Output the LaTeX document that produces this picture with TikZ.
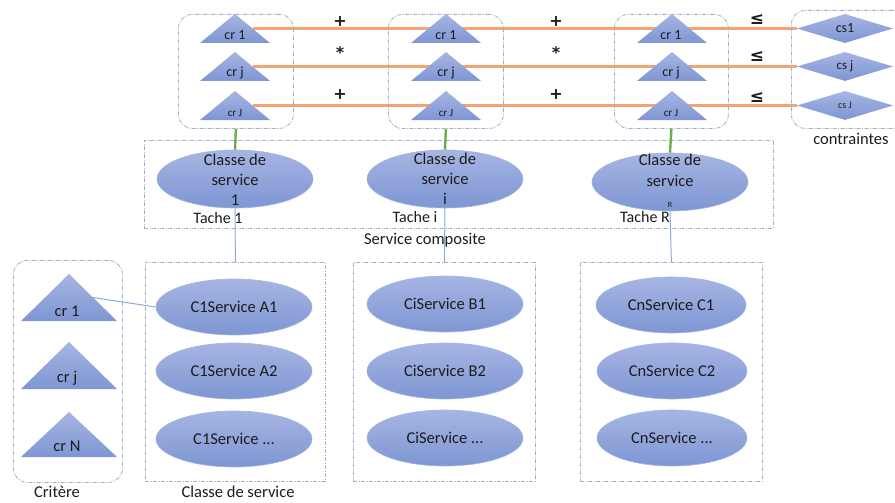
\documentclass[tikz,border=0pt]{standalone}
\usepackage{fontspec}
\setmainfont{Carlito}
\newfontfamily\dejavu{DejaVu Sans}
\usetikzlibrary{shapes.geometric,calc,backgrounds}
\definecolor{triTop}{HTML}{A6B5E3}
\definecolor{triBot}{HTML}{7E96D3}
\definecolor{elBorder}{HTML}{A3B5E2}
\definecolor{boxc}{HTML}{9BB1CC}
\definecolor{orangel}{HTML}{F5A46F}
\definecolor{greenl}{HTML}{70AD47}
\definecolor{bluel}{HTML}{8FAADC}
\definecolor{txt}{HTML}{1C1C1C}
\newcommand\fsz[1]{\fontsize{#1}{#1}\selectfont}
% triangle: name, x, apex y, width, height
\newcommand\mytri[5]{%
  \node[inner sep=0, outer sep=0, minimum width=#4pt, minimum height=#5pt, anchor=north] (#1) at (#2,#3) {};
  \shade[top color=triTop, bottom color=triBot] (#1.south west) -- (#1.north) -- (#1.south east) -- cycle;
}
\begin{document}
\begin{tikzpicture}[x=1pt,y=-1pt,
  every node/.style={text=txt},
  dbox/.style={draw=boxc, line width=0.8pt, dash pattern=on 4pt off 1.5pt on 1pt off 1.5pt, rectangle, inner sep=0, anchor=north west},
  rbox/.style={dbox, rounded corners=14pt},
  ell/.style={ellipse, draw=elBorder, line width=0.6pt, top color=triTop, bottom color=triBot, inner sep=0, minimum width=156pt, minimum height=56pt, font=\fsz{16.5}},
  dia/.style={diamond, top color=triTop, bottom color=triBot, inner sep=0, minimum width=96pt, minimum height=29pt},
  oline/.style={draw=orangel, line width=2.2pt},
  gline/.style={draw=greenl, line width=2.4pt},
  bline/.style={draw=bluel, line width=1pt},
  lab/.style={font=\fsz{16.5}},
  toplab/.style={font=\fsz{14}},
  op/.style={font=\dejavu\fsz{16}\bfseries},
  le/.style={font=\dejavu\fsz{17}\bfseries}
]
\begin{pgfonlayer}{background}
\fill[white] (0,0) rectangle (895,503);
\end{pgfonlayer}
\useasboundingbox (0,0) rectangle (895,503);

% ---------- top criteria groups ----------
\node[rbox, minimum width=115pt, minimum height=114pt] (g1) at (178,14) {};
\node[rbox, minimum width=115pt, minimum height=114pt] (g2) at (388,14) {};
\node[rbox, minimum width=114pt, minimum height=114pt] (g3) at (614,14) {};
\node[rbox, minimum width=115pt, minimum height=118pt] (gc) at (791,10) {};

\mytri{t11}{235}{14}{70}{29}
\mytri{t12}{235}{52}{70}{29}
\mytri{t13}{235}{91}{70}{29}
\mytri{t21}{446}{14}{70}{29}
\mytri{t22}{446}{52}{70}{29}
\mytri{t23}{446}{91}{70}{29}
\mytri{t31}{672}{14}{70}{29}
\mytri{t32}{672}{52}{70}{29}
\mytri{t33}{672}{91}{70}{29}

\node[toplab] (t11l) at (235,35) {cr 1};
\node[toplab] (t12l) at (235,73) {cr j};
\node[font=\fsz{11}] (t13l) at (235,113) {cr J};
\node[toplab] (t21l) at (446,35) {cr 1};
\node[toplab] (t22l) at (446,73) {cr j};
\node[font=\fsz{11}] (t23l) at (446,113) {cr J};
\node[toplab] (t31l) at (671,35) {cr 1};
\node[toplab] (t32l) at (671,73) {cr j};
\node[font=\fsz{11}] (t33l) at (671,113) {cr J};

\node[dia] (d1) at (845,28.5) {\fsz{14}cs1};
\node[dia] (d2) at (845,66.5) {\fsz{13}cs j};
\node[dia] (d3) at (845,105.5) {\fsz{10}cs J};

\begin{pgfonlayer}{background}
\draw[oline] ($(t11.north)!0.5!(t11.south east)$) -- (d1.west);
\draw[oline] ($(t12.north)!0.5!(t12.south east)$) -- (d2.west);
\draw[oline] ($(t13.north)!0.5!(t13.south east)$) -- (d3.west);
\end{pgfonlayer}

\node[op] (p11) at (340,21) {+};
\node[op] (p12) at (340,53) {*};
\node[op] (p13) at (340,94) {+};
\node[op] (p21) at (556,21) {+};
\node[op] (p22) at (556,53) {*};
\node[op] (p23) at (556,94) {+};
\node[le] (l1) at (757,20) {≤};
\node[le] (l2) at (757,57) {≤};
\node[le] (l3) at (757,98) {≤};

\node[lab] (contr) at (851,139) {contraintes};

% ---------- composite service ----------
\node[dbox, minimum width=629pt, minimum height=88pt] (sc) at (144,140) {};
\node[ell, minimum height=58pt] (c1) at (235,179) {};
\node[ell, minimum height=58pt] (c2) at (445,179) {};
\node[ell, minimum height=58pt] (c3) at (670,182) {};
\node[font=\fontsize{16.5}{20}\selectfont, align=center] (c1t) at (235,180) {Classe de\\service\\1};
\node[font=\fontsize{16.5}{20}\selectfont, align=center] (c2t) at (445,179) {Classe de\\service\\i};
\node[font=\fontsize{16.5}{21}\selectfont, align=center] (c3t) at (670,181) {Classe de\\service\\{\fsz{8}R}};
\node[font=\fsz{16}] (tk1) at (218,218) {Tache 1};
\node[font=\fsz{16}] (tk2) at (415,217) {Tache i};
\node[font=\fsz{16}] (tk3) at (645,217) {Tache R};
\node[lab] (sct) at (425,240) {Service composite};

\draw[gline] (g1.south) -- (c1.north);
\draw[gline] (g2.south) -- (c2.north);
\draw[gline] (g3.south) -- (c3.north);

% ---------- service classes ----------
\node[dbox, minimum width=180pt, minimum height=219pt] (bA) at (145,262) {};
\node[dbox, minimum width=182pt, minimum height=219pt] (bB) at (353,262) {};
\node[dbox, minimum width=182pt, minimum height=219pt] (bC) at (580,262) {};

\node[ell] (a1) at (234,307) {C1Service A1};
\node[ell] (a2) at (234,371) {C1Service A2};
\node[ell] (a3) at (234,439) {C1Service ...};
\node[ell] (b1) at (445,304) {CiService B1};
\node[ell] (b2) at (445,371) {CiService B2};
\node[ell] (b3) at (445,438) {CiService ...};
\node[ell, minimum width=150pt] (cc1) at (671,305) {CnService C1};
\node[ell, minimum width=150pt] (cc2) at (672,371) {CnService C2};
\node[ell, minimum width=150pt] (cc3) at (672,438) {CnService ...};

\draw[bline] (c1.south) -- (bA.north);
\draw[bline] (c2.south) -- (bB.north);
\draw[bline] (c3.south) -- (bC.north);

% ---------- criteria ----------
\node[rbox, minimum width=109pt, minimum height=222pt] (crit) at (13,260) {};
\mytri{k1}{69}{274}{96}{47}
\mytri{k2}{69}{342}{96}{47}
\mytri{k3}{69}{412}{96}{45}
\node[lab] (k1l) at (67,311) {cr 1};
\node[lab] (k2l) at (67,378) {cr j};
\node[lab] (k3l) at (67,446) {cr N};

\draw[bline] ($(k1.north)!0.5!(k1.south east)$) -- (a1.west);

\node[lab] (critl) at (57,492) {Critère};
\node[lab] (csl) at (238,492) {Classe de service};
\end{tikzpicture}
\end{document}
